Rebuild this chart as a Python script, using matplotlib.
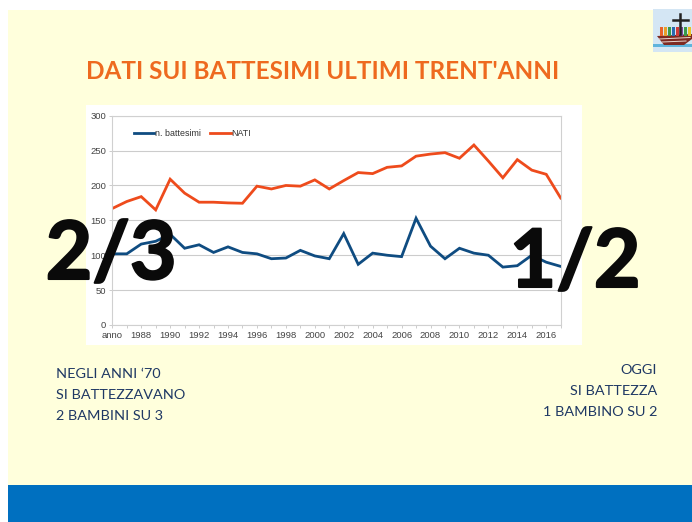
import matplotlib
matplotlib.use("Agg")
import matplotlib.pyplot as plt
import matplotlib.patheffects as pe
from matplotlib.patches import Rectangle, Polygon

# --- Data ---
years = list(range(1986, 2018))
battesimi = [102, 102, 116, 120, 130, 110, 115, 104, 112, 104, 102, 95, 96, 107, 99, 95,
             131, 87, 103, 100, 98, 153, 113, 95, 110, 103, 100, 83, 85, 100, 90, 84]
nati = [167, 177, 184, 165, 209, 189, 176, 176, 175, 174.5, 199, 195, 200, 199, 208, 195,
        207, 218.5, 217, 226, 228, 242, 245, 247, 239, 258, 235, 211, 237, 222, 216, 182]
y_ticks = [0, 50, 100, 150, 200, 250, 300]
y_labels = ["0", "50", "100", "150", "200", "250", "300"]
x_labels = ["anno" if y == 1986 else (str(y) if y % 2 == 0 else "") for y in years]

W, H = 692, 522
title = "DATI SUI BATTESIMI ULTIMI TRENT'ANNI"
left_note = ["NEGLI ANNI ‘70", "SI BATTEZZAVANO", "2 BAMBINI SU 3"]
right_note = ["OGGI", "SI BATTEZZA", "1 BAMBINO SU 2"]

fig = plt.figure(figsize=(W / 100, H / 100), dpi=100, facecolor="white")

# slide background in pixel coordinates
bg = fig.add_axes([0, 0, 1, 1], zorder=0)
bg.set_xlim(0, W)
bg.set_ylim(H, 0)
bg.axis("off")
bg.add_patch(Rectangle((8, 10), W - 8, 476, color="#ffffdc", lw=0))
bg.add_patch(Rectangle((8, 485), W - 8, 37, color="#0070c0", lw=0))
bg.add_patch(Rectangle((86, 105), 496, 240, color="white", lw=0))

bg.text(322.5, 71.5, title, color="#ee6a1f", fontsize=17.5, fontweight="bold",
        family="Lato", ha="center", va="center")

# notes
for i, s in enumerate(left_note):
    bg.text(55.5, 374 + i * 20.8, s, color="#1f3864", fontsize=10.4, family="Lato",
            ha="left", va="center")
for i, s in enumerate(right_note):
    bg.text(657, 370 + i * 20.8, s, color="#1f3864", fontsize=10.4, family="Lato",
            ha="right", va="center")

# logo, rough boat
bg.add_patch(Rectangle((653, 9), 39, 43, color="#d4e6f4", lw=0))
bg.add_patch(Rectangle((653, 44), 39, 3, color="#5fb4dc", lw=0))
bg.add_patch(Polygon([[657, 36], [692, 34], [692, 39], [684, 45], [664, 45]], color="#7e2a22", lw=0))
bg.plot([659, 690], [39, 37.5], color="#e8d8d0", lw=0.7)
bg.plot([662, 686], [42, 41], color="#e8d8d0", lw=0.7)
for x, c in zip(range(660, 692, 4), ["#e8622a", "#e8a02a", "#3a9a4a", "#2a6ab0", "#d03a3a",
                                     "#7a4a9a", "#3a9a4a", "#e8c02a"]):
    bg.add_patch(Rectangle((x, 27), 3, 9, color=c, lw=0))
bg.plot([680, 680], [14, 34], color="#222222", lw=1.8)
bg.plot([673, 688], [20, 20], color="#222222", lw=1.8)

# chart
ax = fig.add_axes([112.3 / W, 1 - 325 / H, (560.7 - 112.3) / W, (325 - 115.7) / H], zorder=1)
ax.patch.set_alpha(0)
ax.plot(years, battesimi, color="#0f4c81", lw=2.0, label="n. battesimi", solid_joinstyle="miter")
ax.plot(years, nati, color="#ee4b1c", lw=2.0, label="NATI", solid_joinstyle="miter")
ax.set_xlim(1986, 2017)
ax.set_ylim(0, 300)
ax.set_yticks(y_ticks, y_labels, family="Liberation Sans")
ax.set_xticks(years, x_labels, family="Liberation Sans")
ax.grid(axis="y", color="#cccccc", lw=0.8)
ax.set_axisbelow(True)
ax.tick_params(axis="both", labelsize=6.8, labelcolor="#444444", length=2, width=0.7, color="#cccccc", pad=2.5)
for s in ["top", "right", "left", "bottom"]:
    ax.spines[s].set_color("#d0d0d0")
    ax.spines[s].set_linewidth(0.8)
ax.legend(loc="upper left", bbox_to_anchor=(0.03, 0.975), ncol=2, frameon=False,
          prop={"family": "Liberation Sans", "size": 6.4},
          handlelength=2.3, handletextpad=0.1, columnspacing=1.05, labelcolor="#333333")

# big fractions above the chart
top = fig.add_axes([0, 0, 1, 1], zorder=2)
top.set_xlim(0, W)
top.set_ylim(H, 0)
top.axis("off")
heavy = [pe.withStroke(linewidth=1.5, foreground="#0a0a0a")]
top.text(111, 256, "2/3", color="#0a0a0a", fontsize=58, fontweight="bold", family="Lato",
         ha="center", va="center", path_effects=heavy)
top.text(575, 264, "1/2", color="#0a0a0a", fontsize=58, fontweight="bold", family="Lato",
         ha="center", va="center", path_effects=heavy)

fig.savefig("out.png", dpi=100)
